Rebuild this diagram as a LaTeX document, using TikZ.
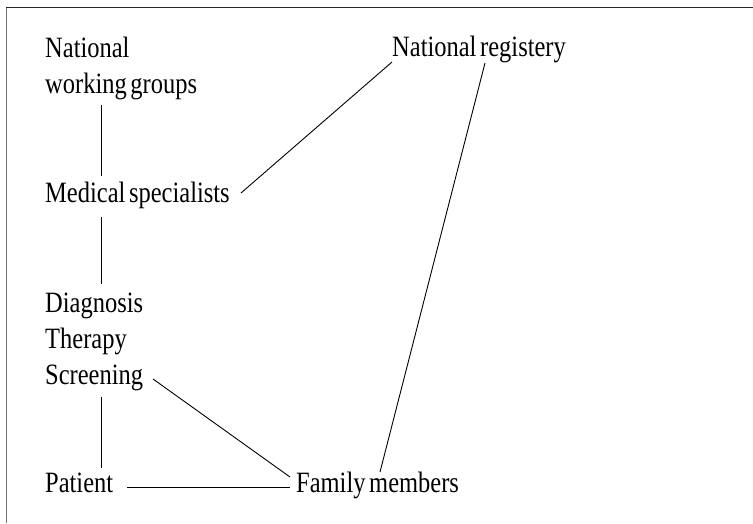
\documentclass[tikz,border=0pt]{standalone}
\usepackage{fontspec}
\setmainfont{Liberation Serif}[FakeStretch=0.83, WordSpace=0.6]
\usetikzlibrary{calc}
\begin{document}
\begin{tikzpicture}[x=1pt,y=-1pt,
  lbl/.style={anchor=base west, inner sep=0pt, font=\fontsize{29.5}{36}\selectfont},
  conn/.style={draw=black, line width=0.9pt}]
\useasboundingbox (0,0) rectangle (753,523);
% frame
\draw[line width=1.3pt, black!85] (6,7.5) -- (753,7.5);
\draw[line width=1pt, black!55] (6.5,7.5) -- (6.5,523);
% nodes
\node[lbl] (nwgA) at (45,57) {National};
\node[lbl] (nwg) at (45,93) {working groups};
\node[lbl] (med) at (45,202) {Medical specialists};
\node[lbl] (reg) at (392,56) {National registery};
\node[lbl] (dtsA) at (45,312) {Diagnosis};
\node[lbl] (dtsB) at (45,348) {Therapy};
\node[lbl] (dts) at (45,384) {Screening};
\node[lbl] (pat) at (45,492) {Patient};
\node[lbl] (fam) at (296,492) {Family members};
% connectors
\draw[conn] ($(nwg.base west)+(56,12)$) -- ($(med.base west)+(56,-26)$);
\draw[conn] ($(med.base west)+(196,-9)$) -- ($(reg.base west)+(0,6)$);
\draw[conn] ($(med.base west)+(56,15)$) -- ($(dtsA.base west)+(56,-28)$);
\draw[conn] ($(dts.base west)+(56,13)$) -- ($(pat.base west)+(56,-24)$);
\draw[conn] ($(dts.base west)+(108,-5)$) -- ($(fam.base west)+(-6,-15)$);
\draw[conn] ($(pat.base west)+(82,-5)$) -- ($(fam.base west)+(-6,-5)$);
\draw[conn] ($(reg.base west)+(93,7)$) -- ($(fam.base west)+(84,-20)$);
\end{tikzpicture}
\end{document}
